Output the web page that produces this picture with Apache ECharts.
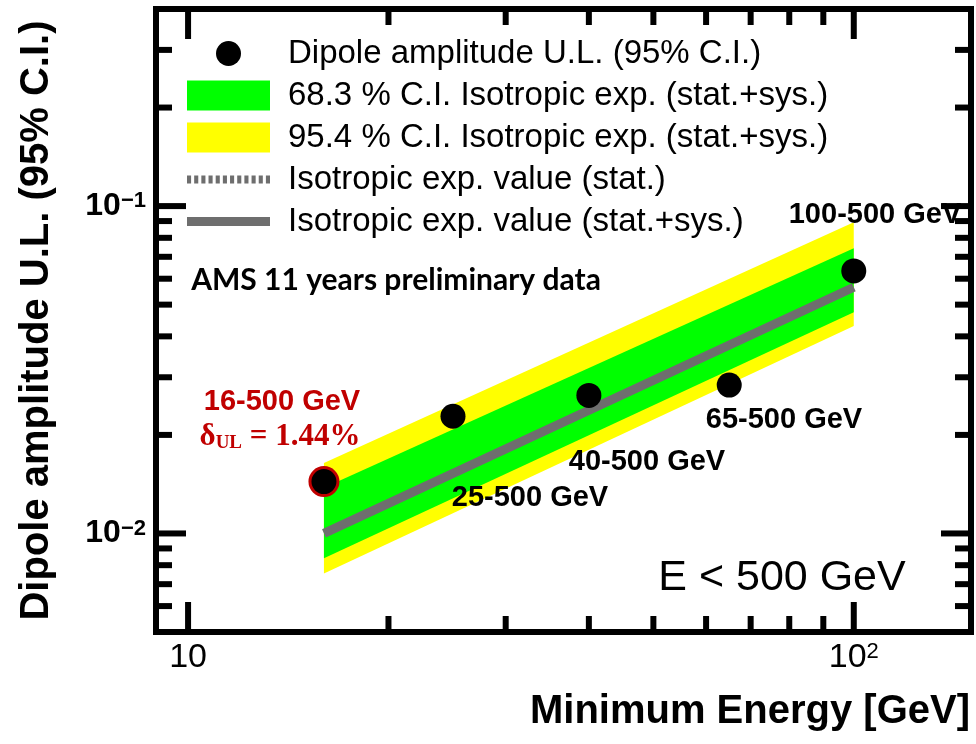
<!DOCTYPE html>
<html><head><meta charset="utf-8">
<script src="https://cdn.jsdelivr.net/npm/echarts@6/dist/echarts.min.js"></script>
<style>html,body{margin:0;padding:0;background:#fff}#c{width:976px;height:744px}</style>
</head><body><div id="c"></div>
<script>
// ---- data ----
const energies = [16, 25, 40, 65, 100];
const dipoleUL = [0.0144, 0.0228, 0.0264, 0.0284, 0.0634];
const binLabels = ['16-500 GeV', '25-500 GeV', '40-500 GeV', '65-500 GeV', '100-500 GeV'];
const bandX = [16, 100];
const isoExpSys = [0.0100, 0.0565];
const ci68Upper = [0.0138, 0.0744];
const ci68Lower = [0.0084, 0.0474];
const ci95Upper = [0.0164, 0.0893];
const ci95Lower = [0.00755, 0.0430];
const xTicks = [10, 20, 30, 40, 50, 60, 70, 80, 90, 100];
const yTicks = [0.006, 0.007, 0.008, 0.009, 0.01, 0.02, 0.03, 0.04, 0.05, 0.06, 0.07, 0.08, 0.09, 0.1, 0.2, 0.3];
const X_MIN = 8.95, X_MAX = 150, Y_MIN = 0.005, Y_MAX = 0.4;

const NAME_PTS = 'Dipole amplitude U.L. (95% C.I.)';
const NAME_68 = '68.3 % C.I. Isotropic exp. (stat.+sys.)';
const NAME_95 = '95.4 % C.I. Isotropic exp. (stat.+sys.)';
const NAME_STAT = 'Isotropic exp. value (stat.)';
const NAME_SYS = 'Isotropic exp. value (stat.+sys.)';
const RED = '#c00000';
const GRAY = '#6e6e6e';
const FONT = 'Liberation Sans';

function isPow10(v) { const l = Math.log10(v); return Math.abs(l - Math.round(l)) < 1e-6; }

// legend icon shapes
let dotted = 'path://';
for (let x = 0; x + 4 <= 83; x += 7) dotted += 'M' + x + ',0h4v8h-4z';
const solidIcon = 'path://M0,0h83v9h-83z';
const circleIcon = 'path://M0,0M30,30M27.5,15A12.5,12.5,0,1,1,2.5,15A12.5,12.5,0,1,1,27.5,15Z';

function bandSeries(name, upper, lower, color, z) {
  return {
    type: 'custom', name: name, z: z, silent: true,
    itemStyle: { color: color },
    data: bandX.map((x, i) => [x, upper[i], lower[i]]),
    renderItem: function (params, api) {
      if (params.dataIndex !== 0) return null;
      const pts = [];
      for (let i = 0; i < bandX.length; i++) pts.push(api.coord([bandX[i], upper[i]]));
      for (let i = bandX.length - 1; i >= 0; i--) pts.push(api.coord([bandX[i], lower[i]]));
      return { type: 'polygon', shape: { points: pts }, style: { fill: color } };
    }
  };
}

function txt(x, y, text, size, color) {
  return { type: 'text', x: x, y: y, z: 30, style: { text: text, fontSize: size, fontWeight: 'bold', fontFamily: FONT, fill: color || '#000', align: 'center', verticalAlign: 'middle' } };
}

const chart = echarts.init(document.getElementById('c'), null, { renderer: 'canvas' });
chart.setOption({
  animation: false,
  backgroundColor: '#fff',
  grid: { left: 156, right: 5, top: 9, bottom: 112, containLabel: false, outerBoundsMode: 'none',
          show: true, borderColor: '#000', borderWidth: 6, backgroundColor: 'transparent' },
  xAxis: {
    type: 'log', logBase: 10, min: X_MIN, max: X_MAX,
    name: 'Minimum Energy [GeV]', nameLocation: 'end', nameGap: -1,
    nameTextStyle: { fontSize: 40, fontWeight: 'bold', fontFamily: FONT, color: '#000', align: 'right', verticalAlign: 'top', padding: [60, 0, 0, 0] },
    axisLine: { show: false }, axisTick: { show: false }, splitLine: { show: false },
    axisLabel: {
      margin: 9, color: '#000', fontFamily: FONT, fontSize: 34,
      formatter: function (v) {
        if (!isPow10(v)) return '';
        const e = Math.round(Math.log10(v));
        return e === 1 ? '{b|10}' : '{b|10}{s|' + e + '}';
      },
      rich: { b: { fontSize: 34, fontFamily: FONT, color: '#000' }, s: { fontSize: 22, fontFamily: FONT, color: '#000', verticalAlign: 'top' } }
    }
  },
  yAxis: {
    type: 'log', logBase: 10, min: Y_MIN, max: Y_MAX,
    name: 'Dipole amplitude U.L. (95% C.I.)', nameLocation: 'middle', nameGap: 99, nameMoveOverlap: false,
    nameTextStyle: { fontSize: 40, fontWeight: 'bold', fontFamily: FONT, color: '#000' },
    axisLine: { show: false }, axisTick: { show: false }, splitLine: { show: false },
    axisLabel: {
      margin: 10, color: '#000', fontFamily: FONT,
      formatter: function (v) {
        if (!isPow10(v)) return '';
        const e = Math.round(Math.log10(v));
        return '{b|10}{s|\u2212' + (-e) + '}';
      },
      rich: { b: { fontSize: 32, fontWeight: 'bold', fontFamily: FONT, color: '#000' }, s: { fontSize: 22, fontWeight: 'bold', fontFamily: FONT, color: '#000', verticalAlign: 'top' } }
    }
  },
  legend: {
    orient: 'vertical', left: 187, top: 37, padding: 0,
    itemWidth: 83, itemHeight: 30, itemGap: 9,
    textStyle: { fontSize: 33, fontFamily: FONT, color: '#000', padding: [0, 0, 0, 13] },
    selectedMode: false,
    data: [
      { name: NAME_PTS, icon: circleIcon },
      { name: NAME_68, icon: 'rect' },
      { name: NAME_95, icon: 'rect' },
      { name: NAME_STAT, icon: dotted },
      { name: NAME_SYS, icon: solidIcon }
    ]
  },
  series: [
    bandSeries(NAME_95, ci95Upper, ci95Lower, '#ffff00', 1),
    bandSeries(NAME_68, ci68Upper, ci68Lower, '#00ff00', 2),
    {
      type: 'line', name: NAME_STAT, z: 3, symbol: 'none', silent: true,
      lineStyle: { color: GRAY, width: 8, type: [4, 3] },
      itemStyle: { color: GRAY },
      data: []
    },
    {
      type: 'line', name: NAME_SYS, z: 4, symbol: 'none', silent: true,
      lineStyle: { color: GRAY, width: 9 },
      itemStyle: { color: GRAY },
      data: bandX.map((x, i) => [x, isoExpSys[i]])
    },
    {
      type: 'scatter', name: NAME_PTS, z: 6, symbol: 'circle', symbolSize: 25, silent: true,
      itemStyle: { color: '#000', opacity: 1 },
      data: energies.map((e, i) => i === 0
        ? { value: [e, dipoleUL[i]], symbolSize: 28, itemStyle: { color: '#000', opacity: 1, borderColor: RED, borderWidth: 3 } }
        : { value: [e, dipoleUL[i]] })
    },
    {
      type: 'custom', name: 'xticks', z: 20, silent: true, clip: false,
      data: xTicks.map(v => [v, Y_MIN]),
      renderItem: function (params, api) {
        const v = api.value(0);
        const pb = api.coord([v, Y_MIN]), pt = api.coord([v, Y_MAX]);
        const len = isPow10(v) ? 30 : 16;
        const st = { stroke: '#000', lineWidth: 6 };
        return { type: 'group', children: [
          { type: 'line', shape: { x1: pb[0], y1: pb[1], x2: pb[0], y2: pb[1] - len }, style: st },
          { type: 'line', shape: { x1: pt[0], y1: pt[1], x2: pt[0], y2: pt[1] + len }, style: st }
        ] };
      }
    },
    {
      type: 'custom', name: 'yticks', z: 20, silent: true, clip: false,
      data: yTicks.map(v => [X_MIN, v]),
      renderItem: function (params, api) {
        const v = api.value(1);
        const pl = api.coord([X_MIN, v]), pr = api.coord([X_MAX, v]);
        const len = isPow10(v) ? 30 : 16;
        const st = { stroke: '#000', lineWidth: 6 };
        return { type: 'group', children: [
          { type: 'line', shape: { x1: pl[0], y1: pl[1], x2: pl[0] + len, y2: pl[1] }, style: st },
          { type: 'line', shape: { x1: pr[0], y1: pr[1], x2: pr[0] - len, y2: pr[1] }, style: st }
        ] };
      }
    }
  ],
  graphic: [
    { type: 'text', x: 396, y: 280, z: 30, style: { text: 'AMS 11 years preliminary data', fontSize: 30, fontWeight: 'bold', fontFamily: 'Lato', fill: '#000', align: 'center', verticalAlign: 'middle' } },
    txt(875, 215, binLabels[4], 29),
    txt(784, 420, binLabels[3], 29),
    txt(647, 462, binLabels[2], 29),
    txt(530, 498, binLabels[1], 29),
    txt(282, 402, binLabels[0], 29, RED),
    { type: 'text', x: 280, y: 437, z: 30, style: {
        text: '{d|\u03b4}{s|UL}{d| = 1.44%}', align: 'center', verticalAlign: 'middle', fill: RED,
        rich: { d: { fontSize: 31, fontWeight: 'bold', fontFamily: 'Liberation Serif', fill: RED },
                s: { fontSize: 19, fontWeight: 'bold', fontFamily: 'Liberation Serif', fill: RED, verticalAlign: 'bottom', padding: [9, 0, 0, 0] } } } },
    { type: 'text', x: 782, y: 578, z: 30, style: { text: 'E < 500 GeV', fontSize: 43, fontFamily: FONT, fill: '#000', align: 'center', verticalAlign: 'middle' } }
  ]
});
</script></body></html>
